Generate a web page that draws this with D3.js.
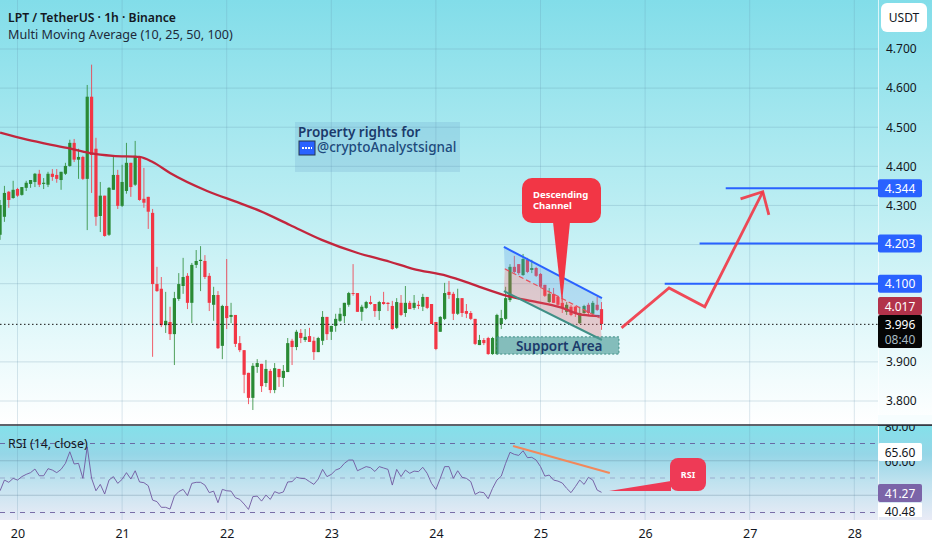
<!DOCTYPE html>
<html>
<head>
<meta charset="utf-8">
<script src="https://cdn.jsdelivr.net/npm/d3@7"></script>
<style>
  html, body { margin: 0; padding: 0; background: #fff; }
  text { font-family: "Noto Sans", sans-serif; }
</style>
</head>
<body>
<div id="main"></div>
<script>
const w = 932, h = 550;
const plotRight = 878;

// hourly candles, first one is 4 hours before day 20 00:00
const firstHour = -4;
const opens = [4.225,4.271,4.335,4.319,4.342,4.327,4.345,4.355,4.360,4.381,4.355,4.353,4.381,4.378,4.365,4.381,4.401,4.460,4.417,4.424,
  4.368,4.578,4.445,4.273,4.325,4.225,4.340,4.378,4.299,4.337,4.409,4.353,4.424,4.317,4.322,4.281,4.099,4.087,3.994,4.002,
  3.971,4.061,4.094,4.120,4.051,4.148,4.158,4.158,4.120,4.046,4.071,3.941,4.043,4.015,4.020,3.948,3.930,3.872,3.808,3.887,
  3.895,3.846,3.877,3.828,3.882,3.859,3.874,3.954,3.938,3.974,3.956,3.966,3.954,3.925,3.954,4.015,3.977,3.992,4.005,4.017,
  4.046,4.076,4.076,4.028,4.038,4.053,4.048,4.030,4.053,4.051,4.043,3.987,4.051,4.025,4.051,4.038,4.046,4.041,4.066,4.048,
  4.002,3.977,4.010,4.079,4.074,4.023,4.063,4.030,4.025,4.010,3.943,3.956,3.961,3.920,3.920,3.997,4.010,4.058,4.143,4.150,
  4.122,4.161,4.135,4.140,4.125,4.097,4.053,4.074,4.066,4.051,4.028,4.041,4.041,3.999,4.025,4.046,4.023,4.046,4.035];
const highs = [4.314,4.350,4.337,4.363,4.345,4.347,4.363,4.365,4.383,4.391,4.370,4.386,4.393,4.393,4.386,4.409,4.468,4.470,4.445,4.427,
  4.608,4.660,4.473,4.360,4.325,4.347,4.424,4.391,4.404,4.460,4.409,4.465,4.424,4.396,4.322,4.291,4.143,4.117,4.079,4.041,
  4.079,4.127,4.166,4.127,4.153,4.186,4.196,4.173,4.127,4.092,4.081,4.046,4.163,4.051,4.020,3.966,3.930,3.872,3.897,3.907,
  3.895,3.905,3.882,3.897,3.882,3.892,3.961,3.959,3.982,3.984,3.984,3.987,3.964,3.964,4.030,4.015,3.992,4.023,4.038,4.051,
  4.079,4.150,4.076,4.046,4.056,4.069,4.048,4.056,4.079,4.053,4.056,4.063,4.071,4.094,4.056,4.071,4.056,4.074,4.066,4.048,
  4.002,4.017,4.102,4.107,4.079,4.087,4.063,4.048,4.030,4.010,3.969,3.961,3.964,3.964,4.023,4.033,4.092,4.150,4.171,4.150,
  4.176,4.166,4.161,4.143,4.127,4.097,4.089,4.089,4.069,4.069,4.053,4.046,4.043,4.041,4.046,4.051,4.056,4.066,4.053];
const lows = [4.212,4.258,4.294,4.317,4.322,4.325,4.337,4.345,4.347,4.347,4.342,4.347,4.363,4.358,4.340,4.378,4.399,4.411,4.368,4.365,
  4.237,4.332,4.248,4.232,4.220,4.222,4.340,4.291,4.296,4.330,4.322,4.350,4.312,4.294,4.240,3.913,4.079,3.989,3.974,3.956,
  3.892,4.056,4.074,4.035,3.999,4.140,4.081,4.112,4.030,4.005,3.933,3.907,3.984,3.999,3.938,3.925,3.820,3.792,3.777,3.872,
  3.823,3.836,3.820,3.820,3.836,3.836,3.874,3.892,3.930,3.948,3.951,3.951,3.905,3.925,3.943,3.956,3.956,3.977,4.002,3.999,
  4.041,4.069,4.028,4.005,4.035,4.046,4.015,4.007,4.046,4.030,3.982,3.984,4.017,4.015,4.035,4.033,4.035,4.030,4.035,3.997,
  3.930,3.977,4.007,4.061,4.007,4.020,4.015,4.012,4.007,3.943,3.943,3.943,3.918,3.918,3.918,3.984,4.007,4.053,4.127,4.122,
  4.120,4.127,4.127,4.117,4.092,4.066,4.051,4.051,4.043,4.025,4.020,4.017,4.015,3.997,4.023,4.017,4.017,4.030,3.982];
const closes = [4.301,4.332,4.314,4.340,4.325,4.347,4.358,4.365,4.381,4.353,4.358,4.381,4.373,4.368,4.386,4.401,4.460,4.417,4.424,4.368,
  4.578,4.429,4.271,4.325,4.222,4.345,4.378,4.299,4.360,4.409,4.347,4.427,4.314,4.307,4.284,4.099,4.081,3.994,4.005,3.971,
  4.063,4.099,4.117,4.051,4.148,4.158,4.161,4.117,4.051,4.071,3.935,4.043,4.012,4.020,3.946,3.930,3.867,3.808,3.890,3.897,
  3.838,3.882,3.828,3.884,3.861,3.877,3.948,3.938,3.977,3.961,3.964,3.951,3.925,3.961,4.015,3.971,3.992,4.010,4.023,4.051,
  4.076,4.074,4.028,4.041,4.053,4.048,4.030,4.053,4.048,4.048,3.984,4.053,4.020,4.051,4.035,4.051,4.043,4.066,4.038,3.997,
  3.933,4.015,4.076,4.071,4.023,4.063,4.025,4.023,4.010,3.946,3.956,3.948,3.920,3.961,4.020,4.012,4.063,4.143,4.130,4.127,
  4.163,4.130,4.140,4.120,4.092,4.069,4.074,4.051,4.046,4.038,4.046,4.020,4.025,4.025,4.043,4.025,4.051,4.033,3.997];

const rsiValues = [42.6,48.8,47.5,49.8,48.8,50.8,52.1,53.1,55.2,51.3,51.3,55.4,54.6,53.1,55.0,58.5,65.2,58.1,58.5,49.8,
  68.1,49.8,42.6,46.3,40.7,48.8,50.8,46.9,49.2,53.1,49.4,54.2,47.7,47.3,45.5,37.2,36.3,33.0,33.0,32.0,
  39.5,42.1,43.4,39.8,46.9,47.5,47.5,45.9,41.5,42.4,35.7,43.4,42.6,42.4,38.6,37.6,34.9,31.8,39.2,39.5,
  36.6,40.1,37.6,42.1,41.1,41.9,47.7,47.9,50.4,49.8,49.6,47.9,46.3,49.4,55.0,50.8,52.1,54.6,55.6,58.5,
  60.4,60.4,54.2,55.4,56.6,56.0,53.8,56.6,55.8,55.0,45.9,55.0,50.8,54.6,52.7,54.0,53.7,56.2,52.7,46.9,
  43.4,49.8,56.6,56.6,49.8,54.2,50.4,49.8,47.9,40.5,41.9,41.5,38.0,44.0,48.8,51.1,58.5,64.9,63.7,63.1,
  65.8,61.8,62.0,60.4,56.6,51.1,51.7,48.8,48.2,47.1,44.0,41.5,45.0,48.8,46.3,50.4,48.8,43.0,41.7];

// moving average, read at some hours only
const maHours = [-4,2.2,11.4,16.6,21.9,28,31,35,43.5,51,55.6,62.5,69.8,77.9,85.4,90.7,98.5,103,106,112.3,119.2,124.4,129.7,133.6];
const maPrices = [4.486,4.468,4.447,4.434,4.427,4.424,4.411,4.383,4.337,4.306,4.286,4.250,4.212,4.179,4.156,4.138,4.120,4.104,4.092,4.069,4.053,4.040,4.020,4.017];

const dayLabels = [20,21,22,23,24,25,26,27,28];
const priceGrid = [4.7,4.6,4.5,4.4,4.3,4.2,4.1,3.9,3.8];
const priceTicks = [4.7,4.6,4.5,4.4,4.3,3.9,3.8];
const rsiGrid = [60,40];
const rsiDashed = [70,30];
const rsiMiddle = [50];
const levels = [4.344,4.203,4.100];
const levelStarts = [162.5,156.5,148.5];
const lastPrice = 3.996;
const maLast = 4.017;

// drawings, [hour, value]
const channelTop = [[111.6,4.194],[134.1,4.063]];
const channelMid = [[111.8,4.138],[133.6,4.012]];
const channelBottom = [[111.6,4.081],[134.1,3.956]];
const supportBox = [[110,3.964],[138,3.920]];
const projection = [[138.6,3.987],[149.5,4.089],[157.7,4.041],[171,4.335]];
const projectionHead = [[165.9,4.317],[171,4.335],[172.4,4.276]];
const rsiTrend = [[113.7,68.6],[135.9,52.9]];

const GREEN = "#2a8a35", RED = "#f23645", NAVY = "#1b3a6b";

const x = d3.scaleLinear().domain([0, 24]).range([17.5, 122.1]);
const y = d3.scaleLinear().domain([3.8, 4.7]).range([401, 49]);
const yRsi = d3.scaleLinear().domain([30, 70]).range([512.5, 443.5]);

const svg = d3.select("#main").append("svg").attr("width", w).attr("height", h).style("display", "block");
const defs = svg.append("defs");

function gradient(id, stops){
    const g = defs.append("linearGradient").attr("id", id).attr("x1", 0).attr("x2", 0).attr("y1", 0).attr("y2", 1);
    stops.forEach(s => g.append("stop").attr("offset", s[0]).attr("stop-color", s[1]));
}
gradient("bgMain", [[0,"#82dde9"],[0.5,"#bdeef3"],[0.8,"#e6f9fb"],[1,"#ffffff"]]);
gradient("bgRsi", [[0,"#84e0ea"],[0.3,"#95d6e7"],[0.6,"#c0e2ef"],[1,"#e9ebf6"]]);

svg.append("rect").attr("width", w).attr("height", 424).attr("fill", "url(#bgMain)");
svg.append("rect").attr("y", 426).attr("width", w).attr("height", 94).attr("fill", "url(#bgRsi)");
svg.append("rect").attr("x", plotRight).attr("width", 1).attr("height", 520).attr("fill", "#ffffff").attr("opacity", 0.7);

// grid
const hourTicks = dayLabels.map((d, i) => i * 24);
svg.append("g").selectAll("line").data(hourTicks).enter().append("line")
    .attr("x1", d => x(d)).attr("x2", d => x(d)).attr("y1", 0).attr("y2", 520)
    .attr("stroke", "#5f8fa8").attr("stroke-opacity", 0.22);
svg.append("g").selectAll("line").data(priceGrid).enter().append("line")
    .attr("x1", 0).attr("x2", plotRight).attr("y1", d => y(d)).attr("y2", d => y(d))
    .attr("stroke", "#5f8fa8").attr("stroke-opacity", 0.25);
svg.append("g").selectAll("line").data(rsiGrid).enter().append("line")
    .attr("x1", 0).attr("x2", plotRight).attr("y1", d => yRsi(d)).attr("y2", d => yRsi(d))
    .attr("stroke", "#5f7f98").attr("stroke-opacity", 0.35);
svg.append("g").selectAll("line").data(rsiDashed).enter().append("line")
    .attr("x1", 0).attr("x2", plotRight).attr("y1", d => yRsi(d)).attr("y2", d => yRsi(d))
    .attr("stroke", "#5f4f95").attr("stroke-opacity", 0.8).attr("stroke-dasharray", "5,5");
svg.append("g").selectAll("line").data(rsiMiddle).enter().append("line")
    .attr("x1", 0).attr("x2", plotRight).attr("y1", d => yRsi(d)).attr("y2", d => yRsi(d))
    .attr("stroke", "#6f5f9f").attr("stroke-opacity", 0.4).attr("stroke-dasharray", "5,5");

// candles
const candles = opens.map((o, i) => ({hour: firstHour + i, o: o, h: highs[i], l: lows[i], c: closes[i]}));
const candleG = svg.append("g");
candleG.selectAll("line").data(candles).enter().append("line")
    .attr("x1", d => x(d.hour)).attr("x2", d => x(d.hour))
    .attr("y1", d => y(d.h)).attr("y2", d => y(d.l))
    .attr("stroke", d => d.c >= d.o ? GREEN : RED).attr("stroke-width", 1).attr("stroke-opacity", 0.8);
candleG.selectAll("rect").data(candles).enter().append("rect")
    .attr("x", d => x(d.hour) - 1.6).attr("width", 3.2)
    .attr("y", d => y(Math.max(d.o, d.c)))
    .attr("height", d => Math.max(1, Math.abs(y(d.o) - y(d.c))))
    .attr("fill", d => d.c >= d.o ? GREEN : RED);

// moving average
const maLine = d3.line().x((d, i) => x(maHours[i])).y(d => y(d)).curve(d3.curveMonotoneX);
svg.append("path").attr("d", maLine(maPrices)).attr("fill", "none").attr("stroke", "#c2263d").attr("stroke-width", 2.3);

// last price line
svg.append("line").attr("x1", 0).attr("x2", plotRight).attr("y1", y(lastPrice)).attr("y2", y(lastPrice))
    .attr("stroke", "#111").attr("stroke-width", 1).attr("stroke-dasharray", "1.5,2.5");

// channel
const px = d => [x(d[0]), y(d[1])];
function polygon(points, fill, alpha){
    svg.append("polygon").attr("points", points.map(p => p.join(",")).join(" ")).attr("fill", fill).attr("fill-opacity", alpha);
}
polygon([px(channelTop[0]), px(channelTop[1]), px(channelMid[1]), px(channelMid[0])], "#5a9fe0", 0.3);
polygon([px(channelMid[0]), px(channelMid[1]), px(channelBottom[1]), px(channelBottom[0])], "#e8606a", 0.3);
const dataLine = d3.line().x(d => x(d[0])).y(d => y(d[1]));
svg.append("path").attr("d", dataLine(channelMid)).attr("fill", "none").attr("stroke", "#e8505c").attr("stroke-width", 1.2).attr("stroke-dasharray", "5,3");
svg.append("path").attr("d", dataLine(channelTop)).attr("fill", "none").attr("stroke", "#2962ff").attr("stroke-width", 2);
svg.append("path").attr("d", dataLine(channelBottom)).attr("fill", "none").attr("stroke", "#3f8f86").attr("stroke-width", 2);

// support area
svg.append("rect").attr("x", x(supportBox[0][0])).attr("y", y(supportBox[0][1]))
    .attr("width", x(supportBox[1][0]) - x(supportBox[0][0])).attr("height", y(supportBox[1][1]) - y(supportBox[0][1]))
    .attr("fill", "#4f9c98").attr("fill-opacity", 0.65).attr("stroke", "#3f8f86").attr("stroke-dasharray", "2,2");
svg.append("text").attr("x", x(supportBox[0][0]) + 19).attr("y", y(supportBox[1][1]) - 3.5)
    .attr("font-size", 13.5).attr("font-weight", 600).attr("fill", NAVY).text("Support Area");

// levels
levels.forEach((lv, i) => {
    svg.append("line").attr("x1", x(levelStarts[i])).attr("x2", plotRight).attr("y1", y(lv)).attr("y2", y(lv))
        .attr("stroke", "#2962ff").attr("stroke-width", 2);
});

// projection arrow
[projection, projectionHead].forEach(p => {
    svg.append("path").attr("d", dataLine(p)).attr("fill", "none").attr("stroke", "#f23645")
        .attr("stroke-width", 2.8).attr("stroke-linejoin", "miter").attr("stroke-opacity", 0.9);
});

// descending channel callout
svg.append("path").attr("d", "M553,222 L562,303 L570,222 Z").attr("fill", RED);
svg.append("rect").attr("x", 522).attr("y", 178).attr("width", 79).attr("height", 45).attr("rx", 10).attr("fill", RED);
svg.append("text").attr("x", 533).attr("y", 198).attr("font-size", 9.5).attr("font-weight", 700).attr("fill", "#fff").text("Descending");
svg.append("text").attr("x", 533).attr("y", 209).attr("font-size", 9.5).attr("font-weight", 700).attr("fill", "#fff").text("Channel");

// watermark
svg.append("rect").attr("x", 295).attr("y", 122).attr("width", 165).attr("height", 50).attr("fill", "#5a90c0").attr("fill-opacity", 0.18);
svg.append("text").attr("x", 298).attr("y", 137).attr("font-size", 13.5).attr("font-weight", 600).attr("fill", NAVY).text("Property rights for");
svg.append("rect").attr("x", 299).attr("y", 141).attr("width", 16).attr("height", 14).attr("fill", "#2962ff").attr("stroke", "#26384f");
svg.append("path").attr("d", "M302,148 H312").attr("stroke", "#fff").attr("stroke-width", 2).attr("stroke-dasharray", "2,1");
svg.append("text").attr("x", 317).attr("y", 152).attr("font-size", 13.5).attr("font-weight", 500).attr("fill", "#1d4a7c").text("@cryptoAnalystsignal");

// titles
svg.append("text").attr("x", 8).attr("y", 22).attr("font-size", 12.2).attr("font-weight", 600).attr("fill", "#131722").text("LPT / TetherUS · 1h · Binance");
svg.append("text").attr("x", 8).attr("y", 39).attr("font-size", 12.6).attr("fill", "#1e2a3a").text("Multi Moving Average (10, 25, 50, 100)");

// pane separator
svg.append("line").attr("x1", 0).attr("x2", w).attr("y1", 425).attr("y2", 425).attr("stroke", "#2a2e39").attr("stroke-width", 1.5);

// rsi
const rsiLine = d3.line().x((d, i) => x(firstHour + i)).y(d => yRsi(d));
svg.append("path").attr("d", rsiLine(rsiValues)).attr("fill", "none").attr("stroke", "#7058a0").attr("stroke-width", 1).attr("stroke-opacity", 0.9);
svg.append("text").attr("x", 8).attr("y", 448).attr("font-size", 12.4).attr("fill", "#131722").text("RSI (14, close)");
svg.append("path").attr("d", d3.line().x(d => x(d[0])).y(d => yRsi(d[1]))(rsiTrend)).attr("fill", "none").attr("stroke", "#f2885b").attr("stroke-width", 2);
svg.append("path").attr("d", "M609,491 L671,481 L671,491 Z").attr("fill", "#ee3a56");
svg.append("rect").attr("x", 670).attr("y", 458).attr("width", 36).attr("height", 33).attr("rx", 8).attr("fill", "#ee3a56");
svg.append("text").attr("x", 688).attr("y", 478).attr("text-anchor", "middle").attr("font-size", 9).attr("font-weight", 700).attr("fill", "#fff").text("RSI");

// price axis
const axisY = svg.append("g").attr("transform", `translate(${plotRight},0)`)
    .call(d3.axisRight(y).tickValues(priceTicks).tickSize(0).tickPadding(8).tickFormat(d3.format(".3f")));
axisY.select(".domain").remove();
axisY.selectAll("text").attr("font-size", 12).attr("fill", "#131722").style("font-family", '"Noto Sans", sans-serif');

// time axis
const axisX = svg.append("g").attr("transform", "translate(0,523)")
    .call(d3.axisBottom(x).tickValues(hourTicks).tickSize(0).tickPadding(6).tickFormat((d, i) => dayLabels[i]));
axisX.select(".domain").remove();
axisX.selectAll("text").attr("font-size", 12.5).attr("fill", "#131722").style("font-family", '"Noto Sans", sans-serif');

// axis boxes
function tag(top, height, fill, label, color, textY){
    svg.append("rect").attr("x", 878).attr("y", top).attr("width", 44).attr("height", height).attr("rx", 2).attr("fill", fill);
    svg.append("text").attr("x", 900).attr("y", textY).attr("text-anchor", "middle").attr("font-size", 12).attr("fill", color).text(label);
}
svg.append("rect").attr("x", 881).attr("y", 3).attr("width", 46).attr("height", 29).attr("rx", 6).attr("fill", "#fff");
svg.append("text").attr("x", 904).attr("y", 22).attr("text-anchor", "middle").attr("font-size", 12).attr("fill", "#131722").text("USDT");
levels.forEach(lv => {
    tag(y(lv) - 9, 18, "#2962ff", d3.format(".3f")(lv), "#fff", y(lv) + 4.5);
});
tag(297, 18, "#b2324a", d3.format(".3f")(maLast), "#fff", 310.5);
tag(315, 33, "#050505", d3.format(".3f")(lastPrice), "#fff", 329);
svg.append("text").attr("x", 900).attr("y", 344).attr("text-anchor", "middle").attr("font-size", 12).attr("fill", "#a9bcc4").text("08:40");

// rsi axis labels
svg.append("text").attr("x", 900).attr("y", 431).attr("text-anchor", "middle").attr("font-size", 12).attr("fill", "#131722").text("80.00");
svg.append("text").attr("x", 900).attr("y", 465.5).attr("text-anchor", "middle").attr("font-size", 12).attr("fill", "#131722").text("60.00");
tag(443, 18, "#ffffff", "65.60", "#131722", 456.5);
tag(484, 18, "#7b64a8", "41.27", "#fff", 497.5);
svg.append("rect").attr("x", 878).attr("y", 503).attr("width", 44).attr("height", 14).attr("fill", "#fff");
svg.append("text").attr("x", 900).attr("y", 516).attr("text-anchor", "middle").attr("font-size", 12).attr("fill", "#131722").text("40.48");
// separator sits above the clipped 80.00 label
svg.append("rect").attr("x", 878).attr("y", 415).attr("width", 54).attr("height", 10).attr("fill", "#f6fdfe");
svg.append("line").attr("x1", 878).attr("x2", w).attr("y1", 425).attr("y2", 425).attr("stroke", "#2a2e39").attr("stroke-width", 1.5);
</script>
</body>
</html>
